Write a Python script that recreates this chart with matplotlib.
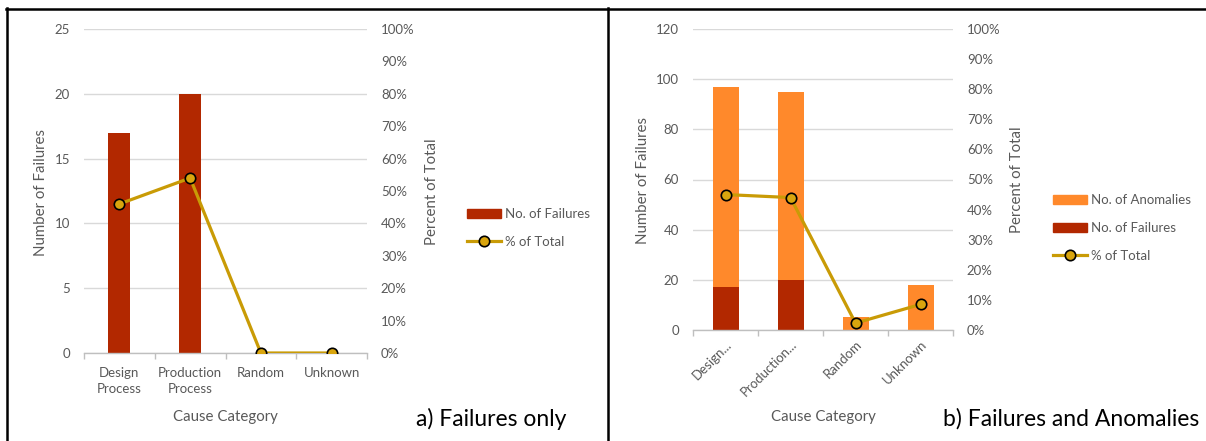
import matplotlib
matplotlib.use("Agg")
import matplotlib.pyplot as plt
from matplotlib.lines import Line2D
from matplotlib.patches import Patch
from matplotlib.ticker import PercentFormatter

# ---- data ----
categories_a = ["Design\nProcess", "Production\nProcess", "Random", "Unknown"]
categories_b = ["Design...", "Production...", "Random", "Unknown"]
failures = [17, 20, 0, 0]
anomalies = [80, 75, 5, 18]          # stacked on top of failures
pct_total_a = [0.46, 0.54, 0.0, 0.0]
pct_total_b = [0.45, 0.44, 0.023, 0.085]
left_ticks_a = [0, 5, 10, 15, 20, 25]
left_ticks_b = [0, 20, 40, 60, 80, 100, 120]
pct_ticks = [0, 0.1, 0.2, 0.3, 0.4, 0.5, 0.6, 0.7, 0.8, 0.9, 1.0]

plt.rcParams['font.family'] = ['Lato', 'DejaVu Sans']

W, H = 1206, 441
fig = plt.figure(figsize=(W / 100, H / 100), dpi=100)

C_FAIL = '#B22800'
C_ANOM = '#FF892B'
C_LINE = '#C99B06'
C_MARK = '#D9A50E'
C_TEXT = '#595959'
C_GRID = '#D9D9D9'
FS = 9.5
FL = 10.8


def px_box(l, r, t, b):
    return [l / W, 1 - b / H, (r - l) / W, (b - t) / H]


def style(ax, ax2, ymax, yticks):
    ax.set_xlim(-0.5, 3.5)
    ax.set_ylim(0, ymax)
    ax.set_yticks(yticks)
    ax.yaxis.grid(True, color=C_GRID, linewidth=1.0)
    ax.set_axisbelow(True)
    for s in ['top', 'right', 'left']:
        ax.spines[s].set_visible(False)
    ax.spines['bottom'].set_color('#BFBFBF')
    ax.spines['bottom'].set_linewidth(1.0)
    ax.tick_params(axis='y', length=0, pad=10, labelsize=FS, labelcolor=C_TEXT)
    ax.set_xticks([0, 1, 2, 3])
    ax.set_xticks([-0.5, 0.5, 1.5, 2.5, 3.5], minor=True)
    ax.tick_params(axis='x', which='major', length=0, labelsize=FS, labelcolor=C_TEXT)
    ax.tick_params(axis='x', which='minor', length=4, color='#BFBFBF', width=1.0)
    ax2.set_ylim(0, 1.0)
    ax2.set_yticks(pct_ticks)
    ax2.yaxis.set_major_formatter(PercentFormatter(1.0, decimals=0))
    ax2.tick_params(axis='y', length=0, pad=10, labelsize=FS, labelcolor=C_TEXT)
    for s in ax2.spines.values():
        s.set_visible(False)


# ---- panel a ----
axa = fig.add_axes(px_box(84, 367, 29, 353))
axa2 = axa.twinx()
x = range(len(categories_a))
axa.bar(x, failures, width=0.31, color=C_FAIL, zorder=2)
style(axa, axa2, 25, left_ticks_a)
axa.set_xticklabels(categories_a, linespacing=1.45)
axa.tick_params(axis='x', which='major', pad=10)
axa2.plot(x, pct_total_a, color=C_LINE, linewidth=2.3, marker='o', markersize=7.5,
          markerfacecolor=C_MARK, markeredgecolor='black', markeredgewidth=1.2, zorder=3)

# ---- panel b ----
axb = fig.add_axes(px_box(693, 953, 29, 330))
axb2 = axb.twinx()
axb.bar(x, failures, width=0.4, color=C_FAIL, zorder=2)
axb.bar(x, anomalies, width=0.4, bottom=failures, color=C_ANOM, zorder=2)
style(axb, axb2, 120, left_ticks_b)
axb.set_xticklabels(categories_b, rotation=45, ha='right', rotation_mode='anchor')
axb.tick_params(axis='x', which='major', pad=6)
axb2.plot(x, pct_total_b, color=C_LINE, linewidth=2.3, marker='o', markersize=7.5,
          markerfacecolor=C_MARK, markeredgecolor='black', markeredgewidth=1.2, zorder=3)


def ftxt(xp, yp, s, **kw):
    fig.text(xp / W, 1 - yp / H, s, **kw)


# axis labels
for xc, yc in [(41, 192), (643, 180)]:
    ftxt(xc, yc, "Number of Failures", rotation=90, ha='center', va='center',
         fontsize=FL, color=C_TEXT)
for xc, yc in [(432, 192), (1017, 180)]:
    ftxt(xc, yc, "Percent of Total", rotation=90, ha='center', va='center',
         fontsize=FL, color=C_TEXT)
for xc in [225, 823]:
    ftxt(xc, 417, "Cause Category", ha='center', va='center', fontsize=FL, color=C_TEXT)

ftxt(416, 419, "a) Failures only", ha='left', va='center', fontsize=16.5, color='black')
ftxt(943, 419, "b) Failures and Anomalies", ha='left', va='center', fontsize=16.5, color='black')

# legends
line_handle = Line2D([], [], color=C_LINE, linewidth=2.3, marker='o', markersize=7.5,
                     markerfacecolor=C_MARK, markeredgecolor='black', markeredgewidth=1.2)
leg_kw = dict(frameon=False, fontsize=FS, labelcolor=C_TEXT, handlelength=2.6,
              handleheight=0.7, handletextpad=0.3, labelspacing=1.2, borderpad=0,
              borderaxespad=0, loc='center left', numpoints=1)
fig.legend([Patch(color=C_FAIL), line_handle], ["No. of Failures", "% of Total"],
           bbox_to_anchor=(467 / W, 1 - 228 / H), **leg_kw)
fig.legend([Patch(color=C_ANOM), Patch(color=C_FAIL), line_handle],
           ["No. of Anomalies", "No. of Failures", "% of Total"],
           bbox_to_anchor=(1053 / W, 1 - 228 / H), **leg_kw)


# border lines
def fline(x0, y0, x1, y1):
    fig.add_artist(Line2D([x0 / W, x1 / W], [1 - y0 / H, 1 - y1 / H], color='black',
                          linewidth=1.8, transform=fig.transFigure))


fline(6, 8.5, W, 8.5)
fline(6.5, 8, 6.5, H)
fline(607.5, 8, 607.5, H)

fig.savefig("out.png", dpi=100)
